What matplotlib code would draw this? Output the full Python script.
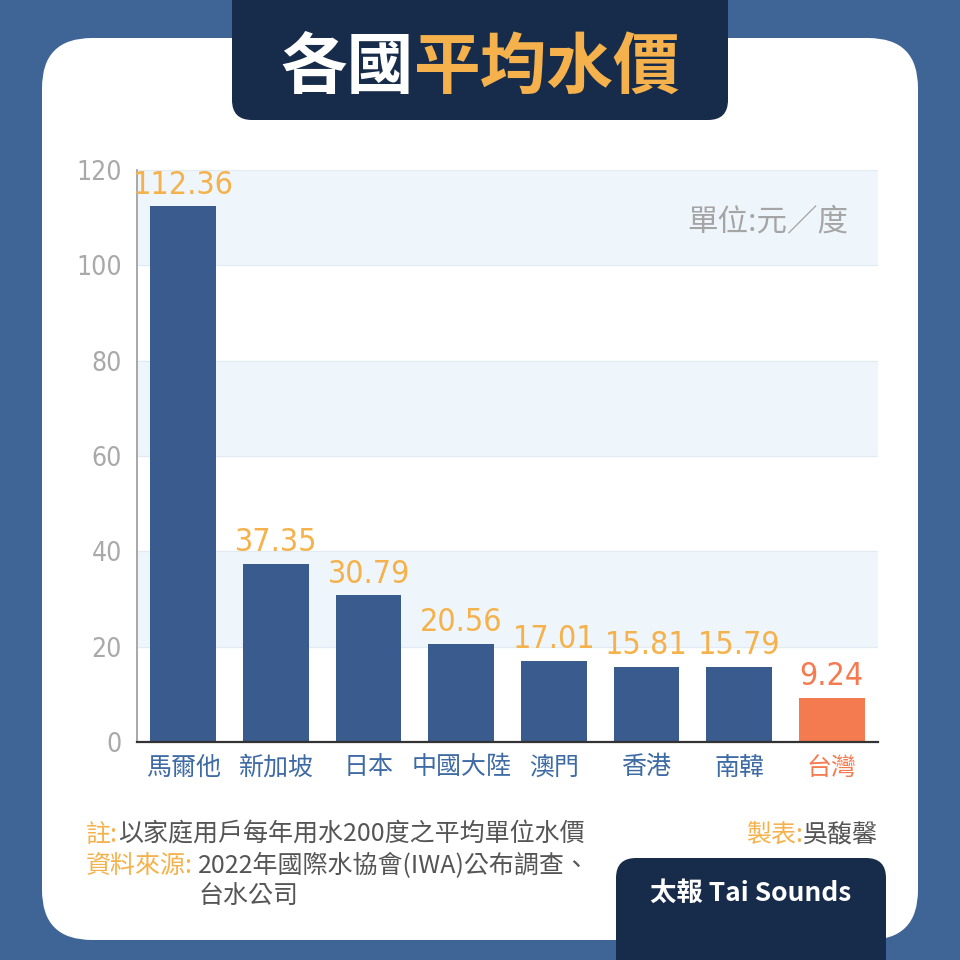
import matplotlib.pyplot as plt
from matplotlib.patches import FancyBboxPatch

# 資料
countries = ['馬爾他', '新加坡', '日本', '中國大陸', '澳門', '香港', '南韓', '台灣']
prices = [112.36, 37.35, 30.79, 20.56, 17.01, 15.81, 15.79, 9.24]
yticks = [0, 20, 40, 60, 80, 100, 120]

cjk = ['Noto Sans CJK TC', 'DejaVu Sans']
narrow = ['DejaVu Sans']
plt.rcParams['font.family'] = cjk

navy = '#172b4a'
bar_blue = '#3a5b8d'
orange = '#f5b24c'
red = '#f47a4f'
tick_blue = '#3f6ba5'
gray = '#555555'

fig = plt.figure(figsize=(9.6, 9.6), dpi=100)
fig.patch.set_facecolor('#3f6597')

def px(x, y):
    return x / 960, 1 - y / 960

def box(x0, y0, x1, y1, r, color, z):
    p = FancyBboxPatch((x0 / 960, 1 - y1 / 960), (x1 - x0) / 960, (y1 - y0) / 960,
                       boxstyle='round,pad=0,rounding_size=%f' % (r / 960),
                       transform=fig.transFigure, facecolor=color, edgecolor='none', zorder=z)
    fig.patches.append(p)

# 白色底板、標題框、品牌框
box(42, 38, 918, 940, 50, 'white', -1)
box(232, -30, 728, 120, 20, navy, 3)
box(616, 858, 886, 990, 20, navy, 3)

# 標題
fig.text(*px(414, 68), '各國', color='white', fontsize=48, fontweight='black',
         ha='right', va='center', zorder=5)
fig.text(*px(414, 68), '平均水價', color=orange, fontsize=48, fontweight='black',
         ha='left', va='center', zorder=5)

# 圖表
ax = fig.add_axes([137 / 960, 218 / 960, 741 / 960, 572 / 960])
ax.set_facecolor('none')
for lo in [100, 60, 20]:
    ax.axhspan(lo, lo + 20, color='#eff6fb', zorder=0)
for t in yticks[1:]:
    ax.axhline(t, color='#e2ebf3', lw=0.8, zorder=0.5)

colors = [bar_blue] * (len(countries) - 1) + [red]
x = range(len(countries))
ax.bar(x, prices, width=0.71, color=colors, zorder=2)
for i, v in enumerate(prices):
    ax.annotate('%.2f' % v, (i, v), xytext=(0, 4), textcoords='offset points',
                ha='center', va='bottom', fontsize=23, family=narrow, fontstretch='condensed',
                color=red if i == len(prices) - 1 else orange)

ax.set_xlim(-0.5, len(countries) - 0.5)
ax.set_ylim(0, 120)
ax.set_yticks(yticks)
ax.set_yticklabels([str(t) for t in yticks], family=narrow, fontstretch='condensed',
                   fontsize=19, color='#a9a9a9')
ax.set_xticks(list(x))
ax.set_xticklabels(countries, fontsize=18)
for lbl, c in zip(ax.get_xticklabels(), colors):
    lbl.set_color(red if c == red else tick_blue)
ax.tick_params(length=0, axis='y', pad=11)
ax.tick_params(length=0, axis='x', pad=9)
for s in ['top', 'right']:
    ax.spines[s].set_visible(False)
ax.spines['left'].set_color('#9a9a9a')
ax.spines['left'].set_linewidth(1.2)
ax.spines['bottom'].set_color('#333333')
ax.spines['bottom'].set_linewidth(1.6)

ax.text(0.96, 0.91, '單位:元／度', transform=ax.transAxes, ha='right', va='center',
        fontsize=22, color='#a5a5a5')

# 註解與來源
fig.text(*px(86, 835), '註:', color=orange, fontsize=18, va='center')
fig.text(*px(118, 835), '以家庭用戶每年用水200度之平均單位水價', color=gray, fontsize=18, va='center')
fig.text(*px(86, 866), '資料來源:', color=orange, fontsize=18, va='center')
fig.text(*px(198, 866), '2022年國際水協會(IWA)公布調查、', color=gray, fontsize=18, va='center')
fig.text(*px(198, 896), '台水公司', color=gray, fontsize=18, va='center')
fig.text(*px(803, 835), '製表:', color=orange, fontsize=18, va='center', ha='right')
fig.text(*px(803, 835), '吳馥馨', color=gray, fontsize=18, va='center', ha='left')

fig.text(*px(751, 893), '太報 Tai Sounds', color='white', fontsize=19, fontweight='bold',
         ha='center', va='center', zorder=5)

fig.savefig('out.png', dpi=100, facecolor=fig.get_facecolor())
